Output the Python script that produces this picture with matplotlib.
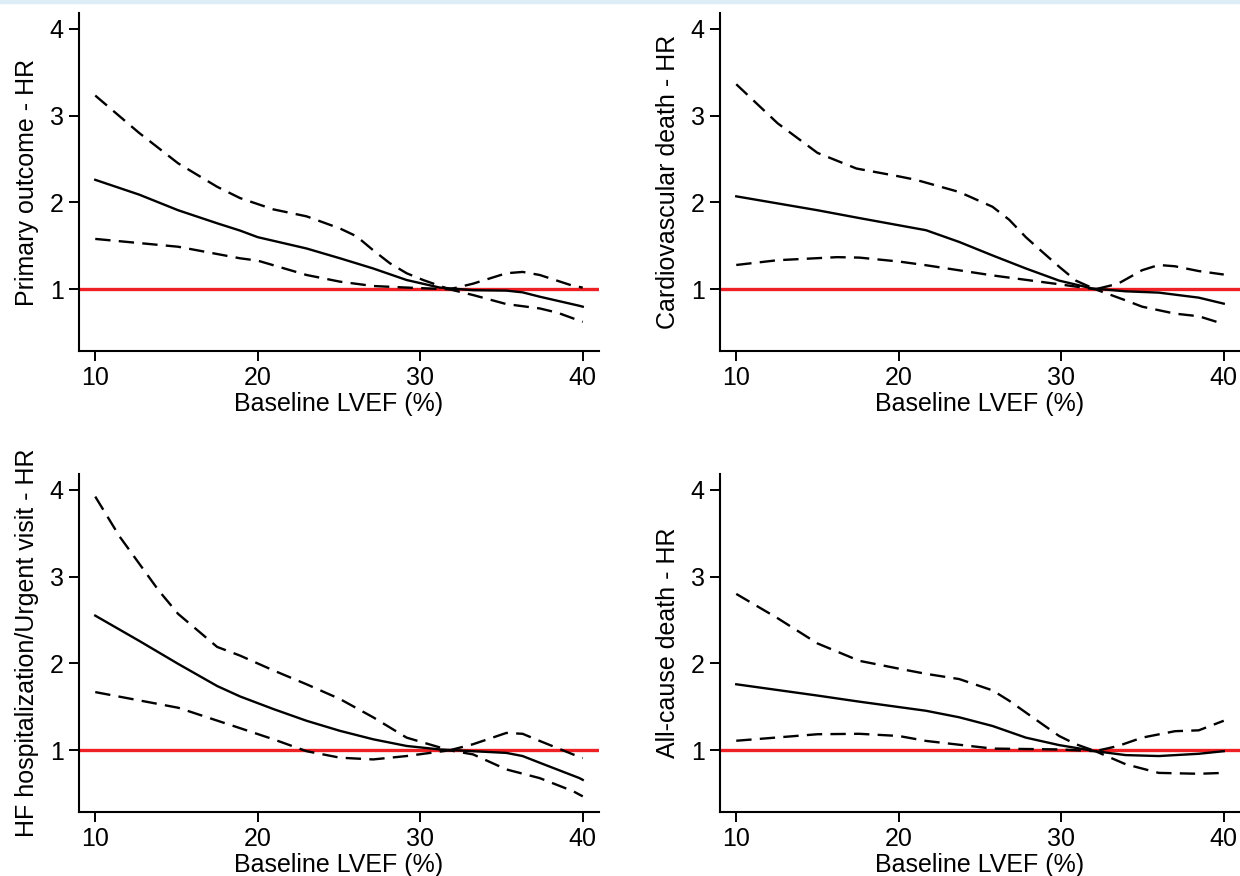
import numpy as np
import matplotlib
matplotlib.use("Agg")
import matplotlib.pyplot as plt

plt.rcParams['font.family'] = ['Liberation Sans', 'DejaVu Sans']

# titles of the four panels
y_titles = ["Primary outcome - HR", "Cardiovascular death - HR",
            "HF hospitalization/Urgent visit - HR", "All-cause death - HR"]
x_title = "Baseline LVEF (%)"

# panel 1 - primary outcome (HR, upper and lower bound)
p1_est_x = [10, 12.7, 15.1, 17.5, 18.91, 20, 23.0, 25.06, 27.1, 29.16, 31.2, 33.25, 35.3,
            36.3, 37.35, 39.8, 40]
p1_est_y = [2.26, 2.09, 1.91, 1.76, 1.676, 1.60, 1.47, 1.357, 1.24, 1.107, 1.02, 0.99, 0.985,
            0.965, 0.915, 0.81, 0.80]
p1_hi_x = [10, 12.7, 15.1, 17.5, 18.91, 20.96, 23.0, 25.06, 26.08, 27.1, 28.13, 29.16, 30.18,
           31.8, 33.25, 35.3, 36.3, 37.35, 39.4, 40]
p1_hi_y = [3.23, 2.80, 2.45, 2.18, 2.05, 1.92, 1.84, 1.70, 1.61, 1.45, 1.30, 1.185, 1.107,
           1.0, 1.065, 1.185, 1.20, 1.165, 1.04, 1.02]
p1_lo_x = [10, 15.1, 18.91, 20, 23.0, 25.06, 27.1, 29.16, 31.8, 33.25, 35.3, 37.35, 38.46, 40]
p1_lo_y = [1.58, 1.49, 1.357, 1.33, 1.165, 1.088, 1.038, 1.02, 1.0, 0.934, 0.83, 0.78, 0.73, 0.625]

# panel 2 - cardiovascular death
p2_est_x = [10, 15, 17.57, 21.68, 23.72, 25.77, 27.82, 29.87, 31.9, 33.96, 36.0, 38.46, 40]
p2_est_y = [2.07, 1.91, 1.82, 1.68, 1.545, 1.39, 1.24, 1.10, 1.01, 0.977, 0.962, 0.904, 0.835]
p2_hi_x = [10, 12.55, 15, 17.4, 20, 21.06, 23.72, 25.77, 26.8, 27.82, 28.84, 29.87, 30.9,
           32.1, 33.5, 34.98, 36.0, 37.0, 38.46, 40]
p2_hi_y = [3.36, 2.91, 2.57, 2.39, 2.30, 2.26, 2.12, 1.95, 1.80, 1.60, 1.43, 1.26, 1.10,
           1.0, 1.065, 1.22, 1.28, 1.265, 1.21, 1.17]
p2_lo_x = [10, 12.55, 16.2, 17.57, 20, 21.68, 25.77, 29.87, 32.1, 33.96, 34.98, 37.0, 38.46, 40]
p2_lo_y = [1.28, 1.335, 1.37, 1.365, 1.32, 1.277, 1.16, 1.058, 1.0, 0.873, 0.80, 0.72, 0.69, 0.60]

# panel 3 - HF hospitalization / urgent visit
p3_est_x = [10, 12.7, 15.1, 17.5, 18.91, 20.96, 23.0, 25.06, 27.1, 29.16, 31.2, 33.25, 35.3,
            36.3, 37.35, 39.8, 40]
p3_est_y = [2.55, 2.26, 1.995, 1.74, 1.62, 1.475, 1.34, 1.224, 1.127, 1.05, 1.01, 0.99, 0.97,
            0.934, 0.857, 0.68, 0.66]
p3_hi_x = [10, 11.5, 12.7, 13.9, 15.1, 16.3, 17.5, 18.91, 20.96, 23.0, 25.06, 27.1, 29.16,
           31.8, 33.25, 35.3, 36.3, 37.35, 39.4, 40]
p3_hi_y = [3.92, 3.46, 3.15, 2.84, 2.57, 2.38, 2.19, 2.09, 1.92, 1.76, 1.59, 1.38, 1.146,
           1.0, 1.07, 1.20, 1.19, 1.108, 0.953, 0.91]
p3_lo_x = [10, 15.1, 18.91, 20.96, 23.0, 25.06, 27.1, 29.16, 31.8, 33.25, 35.3, 37.35, 39.4, 40]
p3_lo_y = [1.67, 1.49, 1.255, 1.127, 0.99, 0.915, 0.895, 0.934, 1.0, 0.953, 0.78, 0.68, 0.53, 0.47]

# panel 4 - all-cause death
p4_est_x = [10, 15, 17.57, 21.68, 23.72, 25.77, 27.82, 29.87, 32.1, 33.96, 36.0, 38.46, 40]
p4_est_y = [1.76, 1.63, 1.56, 1.455, 1.38, 1.28, 1.146, 1.06, 0.99, 0.945, 0.934, 0.96, 0.99]
p4_hi_x = [10, 12.55, 15, 17.57, 20, 21.68, 23.72, 25.77, 26.8, 27.82, 28.84, 29.87, 30.9,
           32.1, 33.5, 34.98, 37.0, 38.46, 40]
p4_hi_y = [2.80, 2.52, 2.23, 2.03, 1.94, 1.88, 1.82, 1.69, 1.57, 1.435, 1.30, 1.165, 1.07,
           0.99, 1.05, 1.146, 1.22, 1.23, 1.34]
p4_lo_x = [10, 15, 17.57, 20, 21.68, 25.77, 29.87, 32.1, 33.96, 36.0, 38.46, 40]
p4_lo_y = [1.11, 1.185, 1.19, 1.165, 1.108, 1.02, 1.01, 0.99, 0.84, 0.74, 0.73, 0.74]

panels = [
    (p1_est_x, p1_est_y, p1_hi_x, p1_hi_y, p1_lo_x, p1_lo_y),
    (p2_est_x, p2_est_y, p2_hi_x, p2_hi_y, p2_lo_x, p2_lo_y),
    (p3_est_x, p3_est_y, p3_hi_x, p3_hi_y, p3_lo_x, p3_lo_y),
    (p4_est_x, p4_est_y, p4_hi_x, p4_hi_y, p4_lo_x, p4_lo_y),
]

fig = plt.figure(figsize=(12.4, 8.76), dpi=100)
W, H = 1240.0, 876.0
# axes boxes in pixels: left, top, right, bottom
boxes = [(79, 13, 599, 351), (720, 13, 1240, 351),
         (79, 474, 599, 812), (720, 474, 1240, 812)]

# thin light-blue strip on top of the figure
fig.patches.append(plt.Rectangle((0, 1 - 3 / H), 1, 3 / H, transform=fig.transFigure,
                                 color="#dcedf6", zorder=0))

for i, (ex, ey, hx, hy, lx, ly) in enumerate(panels):
    l, t, r, b = boxes[i]
    ax = fig.add_axes([l / W, 1 - b / H, (r - l) / W, (b - t) / H])
    ax.axhline(1, color="#ee2024", lw=2.4, zorder=1)
    ax.plot(ex, ey, color="black", lw=1.7, zorder=3, solid_joinstyle="round")
    ax.plot(hx, hy, color="black", lw=1.7, dashes=(6.5, 3.5), zorder=2)
    ax.plot(lx, ly, color="black", lw=1.7, dashes=(6.5, 3.5), zorder=2)

    ax.set_xlim(9, 41)
    ax.set_ylim(0.29, 4.18)
    ax.set_xticks([10, 20, 30, 40])
    ax.set_yticks([1, 2, 3, 4])
    for side in ("top", "right"):
        ax.spines[side].set_visible(False)
    for side in ("left", "bottom"):
        ax.spines[side].set_linewidth(1.5)
    ax.tick_params(axis="both", direction="out", length=7, width=1.4,
                   labelsize=18, pad=4)
    ax.set_xlabel(x_title, fontsize=18)
    ax.set_ylabel(y_titles[i], fontsize=18)
    ax.xaxis.set_label_coords(0.5, -0.122)
    ax.yaxis.set_label_coords(-0.077, 0.5)

fig.savefig("out.png", dpi=100)
